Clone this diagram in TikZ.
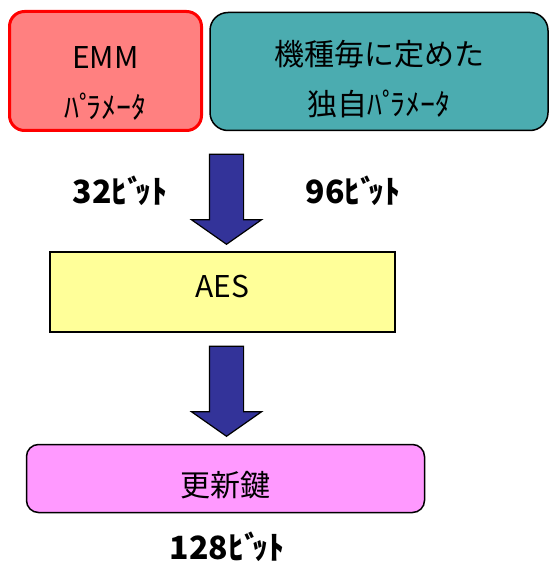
\documentclass[tikz,border=0pt]{standalone}
\usepackage{fontspec}
\setmainfont{Noto Sans CJK JP}
\usetikzlibrary{shapes.arrows}
\definecolor{emmred}{RGB}{255,128,128}
\definecolor{paramteal}{RGB}{75,172,176}
\definecolor{aesyellow}{RGB}{255,255,153}
\definecolor{keypink}{RGB}{255,153,255}
\definecolor{arrowblue}{RGB}{51,51,153}
% half-width voiced marks sit close to their kana
\newcommand\hdaku{ﾞ\kern-.25em}
\newcommand\hhandaku{ﾟ\kern-.25em}
\tikzset{
  box/.style={draw,align=center,font=\fontsize{30}{50}\selectfont,inner sep=0pt},
  bitlabel/.style={font=\fontsize{32}{36}\selectfont\bfseries,inner sep=0pt},
  bigarrow/.style={single arrow,draw,fill=arrowblue,line width=1.2pt,shape border rotate=270,minimum height=90pt,minimum width=69pt,single arrow head extend=18pt,single arrow tip angle=110,inner sep=16.5pt}
}
\begin{document}
\begin{tikzpicture}[x=1pt,y=-1pt]
\useasboundingbox (0,0) rectangle (550,564);
% parameter boxes
\node[box,fill=emmred,draw=red,line width=3pt,rounded corners=15pt,minimum width=192pt,minimum height=119pt] (emm) at (105.5,71) {\rule{0pt}{46pt}EMM\\ﾊ\hhandaku ﾗﾒｰﾀ};
\node[box,fill=paramteal,line width=1.5pt,rounded corners=18pt,minimum width=338pt,minimum height=118pt] (model) at (379,71.5) {\rule{0pt}{40pt}機種毎に定めた\\独自ﾊ\hhandaku ﾗﾒｰﾀ};
\node[bitlabel] (bitsA) at (120,191) {32ﾋ\hdaku ｯﾄ};
\node[bitlabel] (bitsB) at (353,191) {96ﾋ\hdaku ｯﾄ};
\node[bigarrow,anchor=tip] (arrA) at (226.5,245) {};

% AES and key
\node[box,fill=aesyellow,line width=2pt,minimum width=345pt,minimum height=80pt] (aes) at (222.5,292) {\rule[-12pt]{0pt}{12pt}AES};
\node[bigarrow,anchor=tip] (arrB) at (226.5,437) {};
\node[box,fill=keypink,line width=1.5pt,rounded corners=12pt,minimum width=398pt,minimum height=68pt] (key) at (225.5,478.5) {\rule{0pt}{38pt}更新鍵};
\node[bitlabel] (bitsC) at (227,547) {128ﾋ\hdaku ｯﾄ};
\end{tikzpicture}
\end{document}
